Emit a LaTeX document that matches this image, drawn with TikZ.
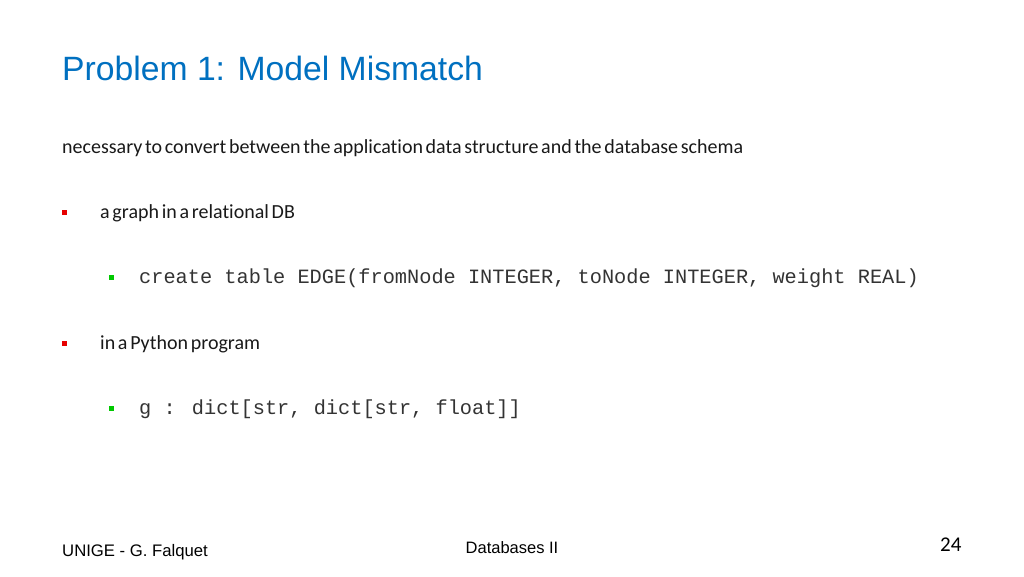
\documentclass[tikz,border=0pt]{standalone}
\usepackage{fontspec}
\setmainfont{Liberation Sans}
\newfontfamily\cond[WordSpace={0.6,0,0},Ligatures=NoCommon]{Carlito}
\newfontfamily\mono{Liberation Mono}
\definecolor{titleblue}{RGB}{0,112,192}
\definecolor{bred}{RGB}{230,0,0}
\definecolor{bgreen}{RGB}{0,200,0}
\begin{document}
\begin{tikzpicture}[x=1pt,y=-1pt,
  txt/.style={anchor=base west,inner sep=0pt},
  body/.style={txt,font=\cond\fontsize{20}{24}\selectfont,text=black!90},
  code/.style={txt,font=\mono\fontsize{20.3}{24}\selectfont,text=black!80},
  redb/.style={fill=bred,minimum size=5pt,inner sep=0pt},
  greenb/.style={fill=bgreen,minimum size=5pt,inner sep=0pt}]
\useasboundingbox (0,0) rectangle (1024,576);
\node[txt,font=\fontsize{33.7}{40}\selectfont,text=titleblue] (title) at (62,80) {Problem 1: Model Mismatch};
\node[body] (l1) at (62,153) {necessary to convert between the application data structure and the database schema};
\node[redb] (b1) at (64,212) {};
\node[body] (l2) at (100,218) {a graph in a relational DB};
\node[greenb] (b2) at (111,277) {};
\node[code] (l3) at (139,283) {create table EDGE(fromNode INTEGER, toNode INTEGER, weight REAL)};
\node[redb] (b3) at (64,343) {};
\node[body] (l4) at (100,349) {in a Python program};
\node[greenb] (b4) at (111,408) {};
\node[code] (l5) at (139,414) {g : dict[str, dict[str, float]]};
\node[txt,font=\fontsize{16.7}{20}\selectfont] (f1) at (62,556) {UNIGE - G. Falquet};
\node[anchor=base,inner sep=0pt,font=\fontsize{16.5}{20}\selectfont] (f2) at (512,553) {Databases II};
\node[txt,font=\cond\fontsize{21}{24}\selectfont] (f3) at (940,551) {24};
\end{tikzpicture}
\end{document}
